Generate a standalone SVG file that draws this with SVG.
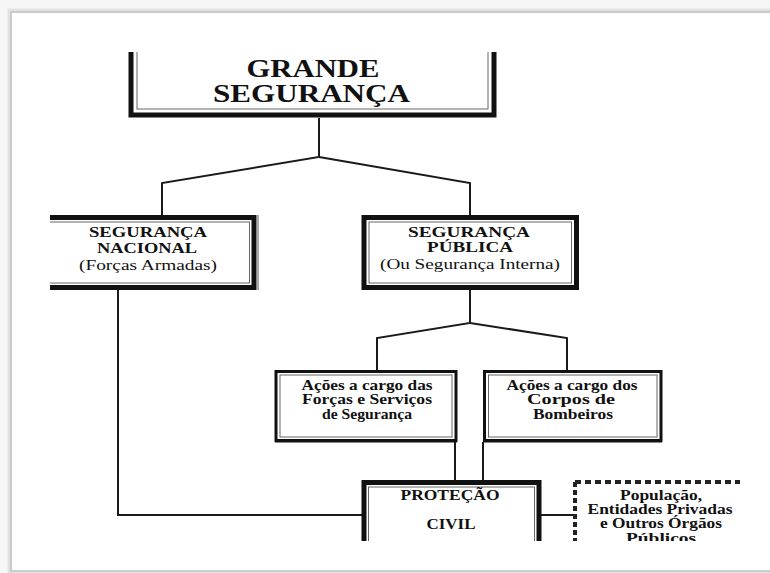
<svg xmlns="http://www.w3.org/2000/svg" width="770" height="573" viewBox="0 0 770 573">
  <defs>
    <clipPath id="content">
      <rect x="50" y="52" width="695" height="489"/>
    </clipPath>
    <style>
      .b { font-family: "Liberation Serif", "Times New Roman", serif; font-weight: bold; fill: #111; text-anchor: middle; }
      .r { font-family: "Liberation Serif", "Times New Roman", serif; font-weight: normal; fill: #111; text-anchor: middle; }
      .thick { fill: none; stroke: #111; stroke-width: 5; }
      .thin { fill: none; stroke: #666; stroke-width: 1; }
      .mid { fill: none; stroke: #111; stroke-width: 3; }
      .conn { fill: none; stroke: #1a1a1a; stroke-width: 2; }
      .dots { fill: none; stroke: #222; stroke-width: 4; }
    </style>
  </defs>
  <rect x="0" y="0" width="770" height="573" fill="#f6f6f6"/>
  <rect x="9" y="10" width="790" height="563" fill="none" stroke="#e2e2e2" stroke-width="3"/>
  <rect x="11" y="12" width="790" height="559" fill="#ffffff" stroke="#bdbdbd" stroke-width="1.5"/>

  <g clip-path="url(#content)">
    <g id="connectors">
      <path class="conn" d="M319 118 V157 L162 183 V215 M319 157 L470 183 V215"/>
      <path class="conn" d="M470 290 V323 L377 338 V370 M470 323 L567 338 V370"/>
      <path class="conn" d="M455 442 V481 M483 442 V481"/>
      <path class="conn" d="M118 290 V515 H362"/>
      <path class="conn" d="M541 515 H573"/>
    </g>

    <g id="grande-seguranca">
      <rect class="thick" x="131" y="20" width="363" height="95" stroke-width="6"/>
      <rect class="thin" x="137" y="20" width="351" height="89"/>
      <text class="b" x="313" y="77" font-size="25" textLength="133" lengthAdjust="spacingAndGlyphs">GRANDE</text>
      <text class="b" x="311.5" y="102" font-size="25" textLength="197" lengthAdjust="spacingAndGlyphs">SEGURANÇA</text>
    </g>

    <g id="seguranca-nacional">
      <rect class="thick" x="30" y="217.5" width="224" height="70"/>
      <rect class="thin" x="30" y="222" width="219.5" height="61"/>
      <line x1="258" y1="215" x2="258" y2="290" stroke="#555" stroke-width="1"/>
      <text class="b" x="148" y="237" font-size="15" textLength="118" lengthAdjust="spacingAndGlyphs">SEGURANÇA</text>
      <text class="b" x="147" y="253" font-size="15" textLength="100" lengthAdjust="spacingAndGlyphs">NACIONAL</text>
      <text class="r" x="148" y="270" font-size="14.5" textLength="138" lengthAdjust="spacingAndGlyphs">(Forças Armadas)</text>
    </g>

    <g id="seguranca-publica">
      <rect class="thick" x="364" y="217.5" width="212.5" height="70"/>
      <rect class="thin" x="369" y="222" width="202.5" height="61"/>
      <text class="b" x="469" y="237" font-size="15" textLength="122" lengthAdjust="spacingAndGlyphs">SEGURANÇA</text>
      <text class="b" x="470" y="252" font-size="15" textLength="86" lengthAdjust="spacingAndGlyphs">PÚBLICA</text>
      <text class="r" x="470" y="269" font-size="14.5" textLength="180" lengthAdjust="spacingAndGlyphs">(Ou Segurança Interna)</text>
    </g>

    <g id="forcas-servicos">
      <rect class="mid" x="276" y="371.5" width="180" height="69"/>
      <rect class="thin" x="280" y="375" width="172" height="62"/>
      <line x1="275" y1="441" x2="457" y2="441" stroke="#111" stroke-width="3"/>
      <text class="b" x="367" y="390" font-size="14" textLength="131" lengthAdjust="spacingAndGlyphs">Ações a cargo das</text>
      <text class="b" x="367" y="404" font-size="14" textLength="130" lengthAdjust="spacingAndGlyphs">Forças e Serviços</text>
      <text class="b" x="367" y="419" font-size="14" textLength="90" lengthAdjust="spacingAndGlyphs">de Segurança</text>
    </g>

    <g id="corpos-bombeiros">
      <rect class="mid" x="484.5" y="371.5" width="176.5" height="69"/>
      <rect class="thin" x="488.5" y="375" width="168.5" height="62"/>
      <line x1="483" y1="441" x2="662" y2="441" stroke="#111" stroke-width="3"/>
      <text class="b" x="572" y="390" font-size="14" textLength="131" lengthAdjust="spacingAndGlyphs">Ações a cargo dos</text>
      <text class="b" x="571" y="404" font-size="14" textLength="88" lengthAdjust="spacingAndGlyphs">Corpos de</text>
      <text class="b" x="573" y="419" font-size="14" textLength="80" lengthAdjust="spacingAndGlyphs">Bombeiros</text>
    </g>

    <g id="protecao-civil">
      <rect class="thick" x="364" y="482.5" width="175" height="100" stroke-width="4.5"/>
      <rect class="thin" x="368.5" y="487" width="166" height="100"/>
      <text class="b" x="450" y="500" font-size="15" textLength="99" lengthAdjust="spacingAndGlyphs">PROTEÇÃO</text>
      <text class="b" x="451" y="529" font-size="15" textLength="49" lengthAdjust="spacingAndGlyphs">CIVIL</text>
    </g>

    <g id="populacao-entidades">
      <path class="dots" d="M575 482 H740" stroke-dasharray="6 4"/>
      <path class="dots" d="M575 482 V545" stroke-dasharray="5 3"/>
      <text class="b" x="661" y="500" font-size="14" textLength="82" lengthAdjust="spacingAndGlyphs">População,</text>
      <text class="b" x="660" y="514" font-size="14" textLength="145" lengthAdjust="spacingAndGlyphs">Entidades Privadas</text>
      <text class="b" x="661" y="528" font-size="14" textLength="122" lengthAdjust="spacingAndGlyphs">e Outros Órgãos</text>
      <text class="b" x="661" y="543" font-size="14" textLength="70" lengthAdjust="spacingAndGlyphs">Públicos</text>
    </g>
  </g>
</svg>
